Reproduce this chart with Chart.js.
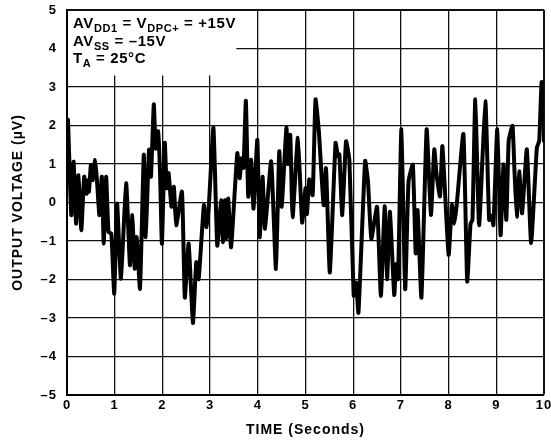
<!DOCTYPE html>
<html>
<head>
<meta charset="utf-8">
<title>Output voltage noise</title>
<script src="https://cdn.jsdelivr.net/npm/chart.js@4.4.0/dist/chart.umd.min.js"></script>
<style>
  html, body { margin: 0; padding: 0; background: #fff; }
  #wrap { width: 551px; height: 444px; }
</style>
</head>
<body>
<div id="wrap"><canvas id="chart" width="551" height="444"></canvas></div>
<script>
'use strict';

//#region Data

// time in seconds
const times = [
  0.00, 0.02, 0.09, 0.14, 0.19, 0.24, 0.30, 0.36, 0.41, 0.44, 0.46, 0.50, 0.54, 0.59, 0.63, 0.68,
  0.73, 0.77, 0.82, 0.87, 0.93, 0.99, 1.05, 1.13, 1.24, 1.32, 1.37, 1.42, 1.46, 1.53, 1.61, 1.65,
  1.72, 1.76, 1.82, 1.86, 1.91, 1.95, 1.99, 2.05, 2.09, 2.13, 2.19, 2.24, 2.29, 2.41, 2.47, 2.55,
  2.64, 2.71, 2.76, 2.87, 2.92, 2.97, 3.07, 3.15, 3.23, 3.27, 3.31, 3.34, 3.38, 3.44, 3.57, 3.62,
  3.66, 3.70, 3.75, 3.80, 3.86, 3.91, 3.99, 4.04, 4.10, 4.15, 4.28, 4.38, 4.45, 4.50, 4.60, 4.63,
  4.68, 4.73, 4.84, 4.93, 5.00, 5.03, 5.08, 5.15, 5.21, 5.28, 5.38, 5.43, 5.51, 5.63, 5.68, 5.71,
  5.77, 5.85, 5.92, 6.01, 6.06, 6.11, 6.25, 6.31, 6.38, 6.50, 6.58, 6.66, 6.71, 6.77, 6.86, 6.90,
  6.94, 7.01, 7.09, 7.16, 7.25, 7.31, 7.35, 7.43, 7.54, 7.63, 7.70, 7.75, 7.82, 7.87, 8.00, 8.07,
  8.12, 8.17, 8.31, 8.39, 8.46, 8.50, 8.56, 8.64, 8.77, 8.85, 8.90, 8.94, 9.02, 9.09, 9.15, 9.21,
  9.26, 9.34, 9.38, 9.43, 9.48, 9.54, 9.64, 9.73, 9.85, 9.90, 9.95, 9.99, 10.00
];

// output voltage in microvolts
const volts = [
  1.90, 2.15, -0.33, 1.06, -0.55, 0.71, -0.72, 0.67, 0.23, 0.58, 0.28, 0.97, 0.58, 1.10, 0.54, -0.33,
  0.67, -1.07, 0.67, -0.77, -0.81, -2.37, -0.03, -1.98, 0.50, -1.63, -0.33, -1.72, -0.90, -2.24, 1.24, -0.90,
  1.37, 0.67, 2.55, 1.40, 1.85, 0.80, -1.07, 1.55, 0.37, 0.76, -0.11, 0.41, -0.59, 0.28, -2.47, -1.07,
  -3.13, -1.55, -1.99, -0.07, -0.64, -0.16, 1.94, -1.12, 0.06, -1.03, 0.06, -0.95, 0.10, -1.16, 1.28, 0.63,
  1.15, 0.90, 2.64, 0.15, 1.11, -0.16, 1.63, -0.90, 0.67, -0.68, 1.07, -1.73, 1.33, -0.11, 1.94, 1.00,
  1.76, -0.38, 1.68, -0.52, 0.37, -0.30, 0.60, 0.19, 2.68, 1.85, -0.07, 0.89, -1.82, 1.55, 1.20, 1.25,
  -0.33, 1.59, 1.10, -2.42, -2.08, -2.86, 1.08, 0.54, -0.94, -0.11, -2.43, -0.10, -1.99, -0.24, -2.40, -1.60,
  -1.99, 1.90, -2.25, 0.54, 0.98, -1.32, -0.20, -2.47, 1.90, -0.32, 1.38, 0.70, 0.16, 1.46, -1.36, -0.06,
  -0.55, -0.06, 1.78, -2.05, -0.55, -0.45, 2.68, -0.59, 2.63, -0.45, -0.35, -0.59, 1.90, -0.85, 0.99, -0.45,
  1.60, 1.99, 0.86, -0.37, 0.81, -0.28, 1.38, -1.05, 1.42, 1.60, 3.13, 3.10, 1.60
];

const xTicks = [0, 1, 2, 3, 4, 5, 6, 7, 8, 9, 10];
const yTicks = [-5, -4, -3, -2, -1, 0, 1, 2, 3, 4, 5];

const xTitle = 'TIME (Seconds)';
const yTitle = 'OUTPUT VOLTAGE (µV)';

// each line: [text, isSubscript]
const noteLines = [
  [['AV', false], ['DD1', true], [' = V', false], ['DPC+', true], [' = +15V', false]],
  [['AV', false], ['SS', true], [' = –15V', false]],
  [['T', false], ['A', true], [' = 25°C', false]]
];

//#endregion

//#region Helpers

const FONT = '"Liberation Sans", Arial, Helvetica, sans-serif';

function minusLabel(value) {
  return value < 0 ? '–' + Math.abs(value) : String(value);
}

function points() {
  let out = [];
  for (let i = 0; i < times.length; i++) {
    out.push({ x: times[i], y: volts[i] });
  }
  return out;
}

function gridWidth(edgeValue) {
  return function (ctx) {
    return ctx.tick && ctx.tick.value === edgeValue ? 2 : 1.3;
  };
}

function drawRichLine(ctx, x, y, parts) {
  for (let i = 0; i < parts.length; i++) {
    let text = parts[i][0];
    let sub = parts[i][1];
    ctx.font = sub ? 'bold 11px ' + FONT : 'bold 15px ' + FONT;
    ctx.fillText(text, x, sub ? y + 4 : y);
    x += ctx.measureText(text).width;
  }
}

//#endregion

//#region Plugins

const spacingPlugin = {
  id: 'spacing',
  beforeDraw(chart) {
    chart.ctx.letterSpacing = '1px';
  }
};

const notePlugin = {
  id: 'note',
  beforeDatasetsDraw(chart) {
    const ctx = chart.ctx;
    const xs = chart.scales.x;
    const ys = chart.scales.y;
    const left = xs.getPixelForValue(0) + 1;
    const top = ys.getPixelForValue(5) + 1;
    const right = xs.getPixelForValue(3.55);
    const bottom = ys.getPixelForValue(3.3);
    ctx.save();
    ctx.fillStyle = '#fff';
    ctx.fillRect(left, top, right - left, bottom - top);
    ctx.fillStyle = '#000';
    ctx.textBaseline = 'alphabetic';
    ctx.textAlign = 'left';
    ctx.letterSpacing = '0.6px';
    for (let i = 0; i < noteLines.length; i++) {
      drawRichLine(ctx, left + 5, top + 17 + i * 17.5, noteLines[i]);
    }
    ctx.restore();
  }
};

//#endregion

//#region Chart

const chartElem = document.getElementById('chart');
let context = chartElem.getContext('2d');

let chartObj = {
  type: 'line',
  data: {
    datasets: [{
      label: 'Output voltage',
      data: points(),
      borderColor: '#000',
      borderWidth: 4,
      borderJoinStyle: 'round',
      borderCapStyle: 'round',
      pointRadius: 0,
      tension: 0.15,
      fill: false
    }]
  },
  options: {
    responsive: false,
    animation: false,
    layout: {
      padding: { left: 0, right: 7, top: 10, bottom: 0 }
    },
    plugins: {
      legend: { display: false },
      tooltip: { enabled: false }
    },
    scales: {
      x: {
        type: 'linear',
        min: 0,
        max: 10,
        afterBuildTicks: (scale) => { scale.ticks = xTicks.map(v => ({ value: v })); },
        afterFit: (scale) => {
          scale.height = 49;
          scale.paddingLeft = 0;
          scale.paddingRight = 0;
        },
        ticks: {
          color: '#000',
          padding: 3,
          maxRotation: 0,
          font: { family: FONT, size: 13, weight: 'bold' },
          callback: minusLabel
        },
        grid: {
          color: '#111',
          lineWidth: gridWidth(10),
          drawTicks: false
        },
        border: { display: true, color: '#000', width: 2 },
        title: {
          display: true,
          text: xTitle,
          color: '#000',
          padding: { top: 0, bottom: 5 },
          font: { family: FONT, size: 14, weight: 'bold' }
        }
      },
      y: {
        type: 'linear',
        min: -5,
        max: 5,
        afterBuildTicks: (scale) => { scale.ticks = yTicks.map(v => ({ value: v })); },
        afterFit: (scale) => {
          scale.width = 67;
          scale.paddingTop = 0;
          scale.paddingBottom = 0;
        },
        ticks: {
          color: '#000',
          padding: 10,
          font: { family: FONT, size: 13, weight: 'bold' },
          callback: minusLabel
        },
        grid: {
          color: '#111',
          lineWidth: gridWidth(5),
          drawTicks: false
        },
        border: { display: true, color: '#000', width: 2 },
        title: {
          display: true,
          text: yTitle,
          color: '#000',
          padding: { top: 10, bottom: 0 },
          font: { family: FONT, size: 14, weight: 'bold' }
        }
      }
    }
  },
  plugins: [spacingPlugin, notePlugin]
};

const chart = new Chart(context, chartObj); //eslint-disable-line

//#endregion
</script>
</body>
</html>
